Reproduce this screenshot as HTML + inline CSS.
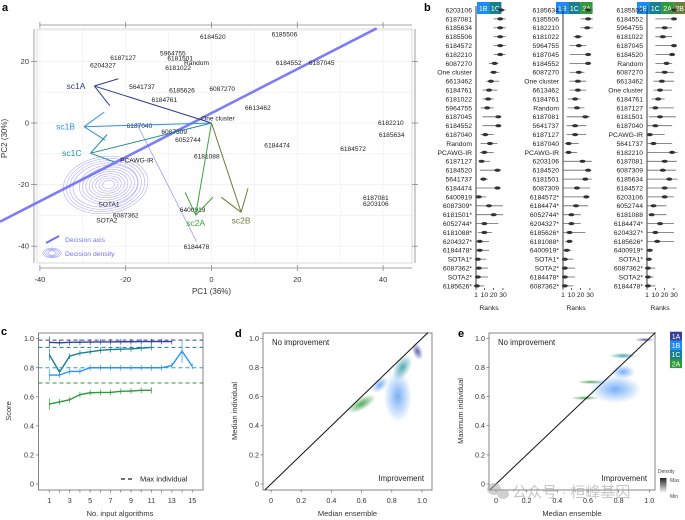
<!DOCTYPE html>
<html><head><meta charset="utf-8"><style>
html,body{margin:0;padding:0;background:#fff;}
svg{display:block;font-family:"Liberation Sans","Noto Sans CJK SC",sans-serif;}
</style></head><body>
<svg id="fig" width="685" height="520" viewBox="0 0 685 520" xmlns="http://www.w3.org/2000/svg">
<defs>
<radialGradient id="gBlue"><stop offset="0" stop-color="#1e7bf0" stop-opacity="0.6"/><stop offset="1" stop-color="#1e7bf0" stop-opacity="0"/></radialGradient>
<radialGradient id="gTeal"><stop offset="0" stop-color="#178a99" stop-opacity="0.75"/><stop offset="1" stop-color="#178a99" stop-opacity="0"/></radialGradient>
<radialGradient id="gNavy"><stop offset="0" stop-color="#34409a" stop-opacity="0.8"/><stop offset="1" stop-color="#34409a" stop-opacity="0"/></radialGradient>
<radialGradient id="gGreen"><stop offset="0" stop-color="#2e9a3a" stop-opacity="0.85"/><stop offset="1" stop-color="#2e9a3a" stop-opacity="0"/></radialGradient>
<linearGradient id="gDens" x1="0" y1="0" x2="0" y2="1"><stop offset="0" stop-color="#222"/><stop offset="1" stop-color="#fff"/></linearGradient>
</defs>
</svg>
<script>
// ---------- Panel a data ----------
const aLabels = ["6184520","6185506","6187127","6204327","5964755","6181501","Random","6181022","6184552","6187045","5641737","6185626","6087270","6184761","6613462","One cluster","6187040","6087309","6052744","6184474","6184572","6182210","6185634","PCAWG-IR","6181088","SOTA1","6087362","SOTA2","6400919","6184478","6187081","6203106"];
const aPC1 = [0.3,17,-20.6,-25.3,-9,-7.3,-3.5,-7.8,18,25.7,-16.2,-6.9,2.5,-11,10.8,1.5,-16.8,-8.7,-5.5,15.3,33,41.8,42,-17.4,-1.1,-23.9,-20,-24.4,-4.4,-3.5,38.3,38.3];
const aPC2 = [28,28.8,21.2,18.8,22.6,21,19.6,18,19.5,19.5,11.8,10.6,11.1,7.5,4.9,1.6,-0.9,-2.8,-5.4,-7.2,-8.4,0.1,-3.8,-12.1,-10.7,-26.4,-29.9,-31.6,-28.2,-40.2,-24.3,-26.2];
const arrowNames = ["sc1A","sc1B","sc1C","sc2A","sc2B"];
const arrowPC1 = [-27.3,-29.7,-28.2,-3.7,6.9];
const arrowPC2 = [12,-1.2,-9.8,-29.9,-29];
const aTicksX = [-40,-20,0,20,40];
const aTicksY = [20,0,-20,-40];

// ---------- Panel b data ----------
const bLabels1 = ["6203106","6187081","6185634","6185506","6184572","6182210","6087270","One cluster","6613462","6184761","6181022","5964755","6187045","6184552","6187040","Random","PCAWG-IR","6187127","6184520","5641737","6184474","6400919","6087309*","6181501*","6052744*","6181088*","6204327*","6184478*","SOTA1*","6087362*","SOTA2*","6185626*"];
const bLo1 = [20,20,20,20,20,20,15,16,12,8,8,6,8,8,6,6,5,5,5,5,1,1,1,1,1,3,1,1,1,1,1,1];
const bHi1 = [33,33,33,33,33,33,25,26,26,24,20,20,26,26,20,24,20,16,28,14,28,12,30,30,25,18,15,15,12,14,14,10];
const bMed1 = [28,27,27,27,27,27,21,20,17,15,14,13,25,25,11,16,10,7,24,9,24,4,15,20,10,10,5,5,3,4,3,2];
const bLabels2 = ["6185634","6185506","6182210","6181022","5964755","6187045","6184552","6087270","One cluster","6613462","6184761","Random","6187081","5641737","6187127","6187040","PCAWG-IR","6203106","6184520","6181501","6087309","6184572*","6184474*","6052744*","6204327*","6185626*","6181088*","6400919*","SOTA1*","SOTA2*","6184478*","6087362*"];
const bLo2 = [20,20,20,12,8,8,8,8,8,8,6,6,5,5,5,3,3,1,1,1,1,1,1,1,1,1,3,3,1,1,1,1];
const bHi2 = [33,33,33,22,26,30,30,24,26,26,20,24,30,26,26,18,16,32,30,32,30,30,28,20,20,25,10,10,12,14,14,12];
const bMed2 = [28,28,27,17,18,28,28,18,17,17,14,16,25,14,14,7,7,22,28,25,16,26,15,10,10,8,8,5,3,3,3,3];
const bLabels3 = ["6185506","6184552","5964755","6181022","6187045","6184520","Random","6087270","6613462","One cluster","6184761","6187127","6181501","6187040","PCAWG-IR","5641737","6182210","6187081","6087309","6185634","6184572","6203106","6052744","6181088","6184474*","6204327*","6185626*","6400919*","SOTA1*","6087362*","SOTA2*","6184478*"];
const bLo3 = [20,10,10,10,10,10,10,10,8,8,6,3,3,1,3,1,1,1,1,1,1,1,1,3,1,1,1,3,3,1,1,1];
const bHi3 = [35,30,28,28,32,30,28,30,30,28,20,30,32,28,20,28,34,33,32,34,33,30,22,22,30,30,30,5,5,10,8,10];
const bMed3 = [30,30,20,18,30,28,22,20,17,15,13,10,15,10,4,8,28,20,18,25,20,20,8,6,15,10,12,4,3,2,2,2];
const bTicks = [1,10,20,30];

// ---------- Panel c data ----------
const cX1A = [1,2,3,4,5,6,7,8,9,10,11,12,13];
const cY1A = [0.975,0.972,0.975,0.976,0.977,0.978,0.978,0.979,0.979,0.98,0.98,0.98,0.98];
const cX1C = [1,2,3,4,5,6,7,8,9,10,11];
const cY1C = [0.89,0.77,0.88,0.9,0.91,0.92,0.925,0.928,0.93,0.935,0.94];
const cX1B = [1,2,3,4,5,6,7,8,9,10,11,12,13,14,15];
const cY1B = [0.75,0.75,0.775,0.775,0.8,0.8,0.8,0.8,0.8,0.8,0.8,0.8,0.815,0.915,0.81];
const cX2A = [1,2,3,4,5,6,7,8,9,10,11];
const cY2A = [0.55,0.565,0.58,0.615,0.628,0.63,0.63,0.638,0.64,0.645,0.645];
const cMax = [0.99,0.94,0.8,0.695];
const cTicksX = [1,3,5,7,9,11,13,15];
const cTicksY = [0,0.2,0.4,0.6,0.8,1.0];

// ---------- Panel d/e density data ----------
const dBlobX = [0.97,0.87,0.84,0.6,0.72];
const dBlobY = [0.91,0.8,0.6,0.55,0.68];
const eBlobX = [0.97,0.83,0.83,0.62,0.58,0.78];
const eBlobY = [0.99,0.88,0.77,0.7,0.59,0.65];
const dTicks = [0,0.2,0.4,0.6,0.8,1.0];

const NS = "http://www.w3.org/2000/svg";
const svg = document.getElementById("fig");
function mk(tag, attrs, parent){
  const e = document.createElementNS(NS, tag);
  for (const k in attrs) e.setAttribute(k, attrs[k]);
  (parent||svg).appendChild(e);
  return e;
}
function txt(str, attrs, parent){
  const e = mk("text", attrs, parent);
  e.textContent = str;
  return e;
}
function fmt(v){ return v===0 ? "0" : v.toFixed(1); }

// ================= Panel a =================
const ga = mk("g", {});


const xa = v => 211.5 + v*4.29;
const ya = v => 123 - v*3.08;
let t;
t = txt("a", {x:2, y:11, "font-size":11, "font-weight":"bold"}, ga);


for (let v=-40; v<=40; v+=10){
  const l = mk("line", {x1:xa(v), x2:xa(v), y1:29, y2:263, stroke:"#ececec", "stroke-width":0.6}, ga);
  
  
}
for (let v=-40; v<=30; v+=10){
  const l = mk("line", {x1:37, x2:412, y1:ya(v), y2:ya(v), stroke:"#ececec", "stroke-width":0.6}, ga);
  
  
}
let fr = mk("rect", {x:37, y:29, width:375, height:234, fill:"none", stroke:"#cfcfcf", "stroke-width":0.8}, ga);


mk("line", {x1:xa(-40), x2:412, y1:268, y2:268, stroke:"#888", "stroke-width":0.8}, ga);
mk("line", {x1:xa(-40), x2:412, y1:25, y2:25, stroke:"#888", "stroke-width":0.8}, ga);
mk("line", {x1:34, x2:34, y1:29, y2:263, stroke:"#888", "stroke-width":0.8}, ga);
mk("line", {x1:415, x2:415, y1:29, y2:263, stroke:"#888", "stroke-width":0.8}, ga);
aTicksX.forEach(v=>{
  mk("line",{x1:xa(v),x2:xa(v),y1:265,y2:271,stroke:"#888","stroke-width":0.8},ga);
  mk("line",{x1:xa(v),x2:xa(v),y1:22,y2:28,stroke:"#888","stroke-width":0.8},ga);
  const tl = txt(String(v), {x:xa(v), y:282, "font-size":7.5, "text-anchor":"middle", fill:"#333"}, ga);
  
  
});
aTicksY.forEach(v=>{
  mk("line",{x1:31,x2:37,y1:ya(v),y2:ya(v),stroke:"#888","stroke-width":0.8},ga);
  mk("line",{x1:412,x2:418,y1:ya(v),y2:ya(v),stroke:"#888","stroke-width":0.8},ga);
  const tl = txt(String(v), {x:29, y:ya(v)+2.5, "font-size":7.5, "text-anchor":"end", fill:"#333"}, ga);
  
  
});
t = txt("PC1 (36%)", {x:xa(0), y:294, "font-size":8, "text-anchor":"middle", fill:"#333"}, ga);


t = txt("PC2 (30%)", {x:0, y:0, "font-size":8, "text-anchor":"middle", fill:"#333", transform:"translate(7,"+ya(-5)+") rotate(-90)"}, ga);


const gc = mk("g", {transform:"translate("+xa(-24)+","+ya(-20)+") rotate(-8)"}, ga);


for (let i=1;i<=12;i++){
  const c = mk("ellipse", {cx:(i>8? -3:0), cy:0, rx:3+i*3.3, ry:2+i*2.2, fill:"none", stroke:"#8a8aff", "stroke-width":0.6, opacity:0.7}, gc);
  
  
}
let ll = mk("line", {x1:xa(-17.5), y1:ya(0), x2:xa(-3.5), y2:ya(-38.5), stroke:"#9c9cf5", "stroke-width":0.8}, ga);


let da = mk("line", {x1:0, y1:221.7, x2:376.7, y2:28.3, stroke:"#6f6ff7", "stroke-width":2.6, opacity:0.9}, ga);


aLabels.forEach((s,i)=>{
  const e = txt(s, {x:xa(aPC1[i]), y:ya(aPC2[i])+2.3, "font-size":6.6, "text-anchor":"middle", fill:"#222"}, ga);
  
  
});
const arrowCol = ["#2f3d8f","#2a8ff0","#1f8d96","#3ca23c","#6b7f3a"];
arrowNames.forEach((n,i)=>{
  const x0=xa(0), y0=ya(0), x1=xa(arrowPC1[i]), y1=ya(arrowPC2[i]);
  const g = mk("g", {stroke:arrowCol[i], "stroke-width":1, fill:"none"}, ga);
  
  
  mk("line", {x1:x0,y1:y0,x2:x1,y2:y1}, g);
  const ang = Math.atan2(y0-y1, x0-x1);
  [0.6,-0.6].forEach(d=>{
    mk("line", {x1:x1,y1:y1,x2:x1+25*Math.cos(ang+d),y2:y1+25*Math.sin(ang+d)}, g);
  });
  const isSc2 = n.startsWith("sc2");
  const lx = isSc2 ? x1 : x1-9, ly = isSc2 ? y1+11 : y1+3;
  const lab = txt(n, {x:lx, y:ly, "font-size":8.5, "text-anchor": isSc2?"middle":"end", fill:arrowCol[i], stroke:"none"}, ga);
  
  
});
const lg = mk("g", {}, ga);


mk("line", {x1:46,y1:243,x2:59,y2:236,stroke:"#6f6ff7","stroke-width":2}, lg);
for (let i=1;i<=4;i++) mk("ellipse",{cx:52,cy:253,rx:2+i*1.8,ry:1.3+i*0.9,fill:"none",stroke:"#8a8aff","stroke-width":0.5},lg);
t = txt("Decision axis", {x:65, y:242, "font-size":6.8, fill:"#7070f0"}, lg);


t = txt("Decision density", {x:65, y:256, "font-size":6.8, fill:"#7070f0"}, lg);



// ================= Panel b =================
const gb = mk("g", {});


t = txt("b", {x:424, y:11, "font-size":11, "font-weight":"bold"}, gb);


const yb = i => 10 + i*8.9;
const cols = [
  {labels:bLabels1, lo:bLo1, hi:bHi1, med:bMed1, axis:476, hdr:[["1B","#1a8cff"],["1C","#17808f"]]},
  {labels:bLabels2, lo:bLo2, hi:bHi2, med:bMed2, axis:563, hdr:[["1B","#1a8cff"],["1C","#17808f"],["2A","#2e9a3a"]]},
  {labels:bLabels3, lo:bLo3, hi:bHi3, med:bMed3, axis:647, hdr:[["1B","#1a8cff"],["1C","#17808f"],["2A","#2e9a3a"],["2B","#6b7f3a"]]}
];
cols.forEach((c,ci)=>{
  const g = mk("g", {}, gb);
  
  
  const xr = r => c.axis + (r-1)*0.93;
  const hx0 = ci===0 ? 477 : (ci===1 ? 556 : 637);
  c.hdr.forEach((h,k)=>{
    const r = mk("rect", {x:hx0+k*12.2, y:2, width:12.2, height:12, fill:h[1]}, g);
    
    
    const ht = txt(h[0], {x:hx0+k*12.2+6.1, y:11, "font-size":7, fill:"#fff", "text-anchor":"middle"}, g);
    
    
  });
  mk("line", {x1:c.axis, x2:c.axis, y1:6, y2:288, stroke:"#222", "stroke-width":0.9}, g);
  c.labels.forEach((s,i)=>{
    const y = yb(i);
    const l = txt(s, {x:c.axis-4, y:y+2.4, "font-size":6.8, "text-anchor":"end", fill:"#222"}, g);
    
    
    const ln = mk("line", {x1:xr(c.lo[i]), x2:xr(c.hi[i]), y1:y, y2:y, stroke:"#666", "stroke-width":0.8}, g);
    
    
    const v = mk("ellipse", {cx:xr(c.med[i]), cy:y, rx:3, ry:1.6, fill:"#333"}, g);
    
    
  });
  bTicks.forEach(r=>{
    mk("line",{x1:xr(r),x2:xr(r),y1:288,y2:290,stroke:"#222","stroke-width":0.7},g);
    const tl = txt(String(r), {x:xr(r), y:297, "font-size":6.8, "text-anchor":"middle", fill:"#222"}, g);
    
    
  });
  const at = txt("Ranks", {x:xr(15), y:310, "font-size":6.8, "text-anchor":"middle", fill:"#222"}, g);
  
  
});

// ================= Panel c =================
const gcn = mk("g", {});


const xc = v => 49.3 + (v-1)*10.21;
const yc = v => 484 - v*145.3;
t = txt("c", {x:1, y:335, "font-size":11, "font-weight":"bold"}, gcn);


fr = mk("rect", {x:38.5, y:333, width:164.5, height:157, fill:"none", stroke:"#666", "stroke-width":0.8}, gcn);


cTicksY.forEach(v=>{
  mk("line",{x1:36,x2:38.5,y1:yc(v),y2:yc(v),stroke:"#666","stroke-width":0.7},gcn);
  const tl = txt(fmt(v), {x:34, y:yc(v)+2.5, "font-size":7.2, "text-anchor":"end", fill:"#333"}, gcn);
  
  
});
for (let v=1; v<=15; v++) mk("line",{x1:xc(v),x2:xc(v),y1:490,y2:492.5,stroke:"#666","stroke-width":0.7},gcn);
cTicksX.forEach(v=>{
  const tl = txt(String(v), {x:xc(v), y:503, "font-size":7.2, "text-anchor":"middle", fill:"#333"}, gcn);
  
  
});
t = txt("No. input algorithms", {x:120, y:516, "font-size":7.5, "text-anchor":"middle", fill:"#333"}, gcn);


t = txt("Score", {x:0, y:0, "font-size":7.5, "text-anchor":"middle", fill:"#333", transform:"translate(11,411) rotate(-90)"}, gcn);


const cSeries = [
  ["1A", cX1A, cY1A, "#34409a"], ["1C", cX1C, cY1C, "#17808f"],
  ["1B", cX1B, cY1B, "#2a95f0"], ["2A", cX2A, cY2A, "#2e9a3a"]
];
cSeries.forEach((s,k)=>{
  const dl = mk("line", {x1:38.5, x2:203, y1:yc(cMax[k]), y2:yc(cMax[k]), stroke:s[3], "stroke-width":1, "stroke-dasharray":"4,3"}, gcn);
  
  
  const pts = s[1].map((x,i)=>xc(x)+","+yc(s[2][i])).join(" ");
  const pl = mk("polyline", {points:pts, fill:"none", stroke:s[3], "stroke-width":1.4}, gcn);
  
  
  s[1].forEach((x,i)=>{
    const e = (i===0 ? 0.04 : 0.02) + (s[0]==="1B"&&i===13 ? 0.06 : 0);
    const eb = mk("line", {x1:xc(x), x2:xc(x), y1:yc(s[2][i]-e), y2:yc(s[2][i]+e), stroke:s[3], "stroke-width":0.7}, gcn);
    
    
  });
});
mk("line", {x1:121, x2:135, y1:479, y2:479, stroke:"#222", "stroke-width":1.2, "stroke-dasharray":"4,3"}, gcn);
t = txt("Max individual", {x:140, y:481.5, "font-size":7.5, fill:"#222"}, gcn);



// ================= Panels d & e =================
function scatterPanel(name, letter, x0frame, x1frame, zero, one, ylabel, bx, by, blobs, lx){
  const g = mk("g", {});
  
  
  const sx = v => zero + v*(one-zero);
  const sy = v => 484 - v*145.7;
  const lt = txt(letter, {x:lx, y:337, "font-size":11, "font-weight":"bold"}, g);
  
  
  blobs.forEach((b,i)=>{
    const e = mk("ellipse", {cx:sx(bx[i]), cy:sy(by[i]), rx:b[1], ry:b[2], fill:"url(#"+b[0]+")", transform:"rotate("+b[3]+" "+sx(bx[i])+" "+sy(by[i])+")"}, g);
    
    
  });
  const f = mk("rect", {x:x0frame, y:333, width:x1frame-x0frame, height:157, fill:"none", stroke:"#666", "stroke-width":0.8}, g);
  
  
  const dg = mk("line", {x1:sx(-0.04), y1:sy(-0.04), x2:sx(1.04), y2:sy(1.04), stroke:"#111", "stroke-width":1}, g);
  
  
  dTicks.forEach(v=>{
    mk("line",{x1:x0frame-2.5,x2:x0frame,y1:sy(v),y2:sy(v),stroke:"#666","stroke-width":0.7},g);
    mk("line",{x1:sx(v),x2:sx(v),y1:490,y2:492.5,stroke:"#666","stroke-width":0.7},g);
    const ty = txt(fmt(v), {x:x0frame-4, y:sy(v)+2.5, "font-size":7.2, "text-anchor":"end", fill:"#333"}, g);
    
    
    const tx = txt(fmt(v), {x:sx(v), y:503, "font-size":7.2, "text-anchor":"middle", fill:"#333"}, g);
    
    
  });
  let a = txt("No improvement", {x:x0frame+9, y:345, "font-size":7.8, fill:"#222"}, g);
  
  
  a = txt("Improvement", {x:x1frame-8, y:481, "font-size":7.8, "text-anchor":"end", fill:"#222"}, g);
  
  
  a = txt("Median ensemble", {x:(x0frame+x1frame)/2, y:516, "font-size":7.5, "text-anchor":"middle", fill:"#333"}, g);
  
  
  a = txt(ylabel, {x:0, y:0, "font-size":7.5, "text-anchor":"middle", fill:"#333", transform:"translate("+(x0frame-26)+",411) rotate(-90)"}, g);
  
  
  return g;
}
scatterPanel("panel-d","d",263,432,271,422,"Median individual",dBlobX,dBlobY,
  [["gNavy",5,9,-20],["gTeal",8,14,30],["gBlue",14,26,0],["gGreen",16,6,-30],["gBlue",10,6,-40]],235);
scatterPanel("panel-e","e",489,655,496,649.3,"Maximum individual",eBlobX,eBlobY,
  [["gNavy",10,2,0],["gTeal",14,3,0],["gBlue",12,7,0],["gGreen",14,2,0],["gGreen",14,2,0],["gBlue",26,14,0]],458);

const ge = mk("g", {});


[["1A","#34409a"],["1B","#1a8cff"],["1C","#17808f"],["2A","#2e9a3a"]].forEach((h,k)=>{
  const r = mk("rect",{x:670,y:331.7+k*9.1,width:12,height:9.1,fill:h[1]},ge);
  
  
  const tt = txt(h[0],{x:676,y:339+k*9.1,"font-size":7,fill:"#fff","text-anchor":"middle"},ge);
  
  
});
mk("rect",{x:660,y:478,width:6.5,height:15,fill:"url(#gDens)"},ge);
t = txt("Density",{x:658,y:473,"font-size":5,fill:"#444"},ge);


t = txt("Max",{x:670,y:482,"font-size":5,fill:"#444"},ge);


t = txt("Min",{x:670,y:498,"font-size":5,fill:"#444"},ge);


const wm = mk("g",{opacity:0.55},svg);


mk("ellipse",{cx:494,cy:489,rx:7,ry:6,fill:"#aaa"},wm);
mk("ellipse",{cx:503,cy:494,rx:6,ry:5,fill:"#aaa"},wm);
t = txt("公众号 · 桓峰基因",{x:512,y:497,"font-size":15,fill:"#999"},wm);


</script>
</body></html>
